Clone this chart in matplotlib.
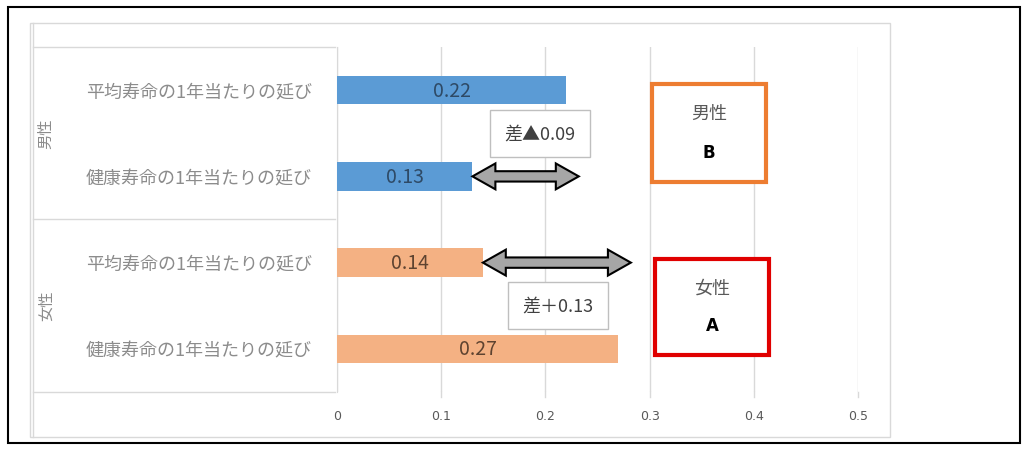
import matplotlib
matplotlib.use('Agg')

import numpy as np
import matplotlib.pyplot as plt
from matplotlib.patches import Polygon, Rectangle
from matplotlib.lines import Line2D

plt.rcParams['font.family'] = ['Noto Sans CJK JP', 'DejaVu Sans']

# data
categories = ['平均寿命の1年当たりの延び', '健康寿命の1年当たりの延び',
              '平均寿命の1年当たりの延び', '健康寿命の1年当たりの延び']
groups = ['男性', '女性']
values = [0.22, 0.13, 0.14, 0.27]
diff_labels = ['差▲0.09', '差＋0.13']
box_labels = [('男性', 'B'), ('女性', 'A')]
xticks = [0, 0.1, 0.2, 0.3, 0.4, 0.5]

blue = '#5B9BD5'
orange = '#F4B183'
bar_colors = [blue, blue, orange, orange]
label_colors = ['#2E4A66', '#2E4A66', '#5E4330', '#5E4330']

fig = plt.figure(figsize=(10.28, 4.52), dpi=100)
W, H = 1028, 452

def fx(px):
    return px / W

def fy(py):
    return 1 - py / H

ax = fig.add_axes([fx(337), fy(393), fx(858) - fx(337), fy(48) - fy(393)])

y = np.arange(len(values))
ax.barh(y, values, height=0.33, color=bar_colors, zorder=3)
ax.set_ylim(3.5, -0.5)
ax.set_xlim(0, 0.5)

# value labels
for yi, v, c in zip(y, values, label_colors):
    ax.text(v / 2, yi, f'{v:.2f}', ha='center', va='center', fontsize=14,
            color=c, zorder=4)

# double arrows between the two bars of each group
for g in range(2):
    a, b = values[2 * g], values[2 * g + 1]
    lo, hi = min(a, b), max(a, b)
    yc = 2 * g + (1 if b < a else 0)
    head = 0.022
    sh, hh = 0.06, 0.15
    x0, x1 = lo, hi + 0.012
    pts = [(x0, yc), (x0 + head, yc - hh), (x0 + head, yc - sh),
           (x1 - head, yc - sh), (x1 - head, yc - hh), (x1, yc),
           (x1 - head, yc + hh), (x1 - head, yc + sh), (x0 + head, yc + sh),
           (x0 + head, yc + hh)]
    ax.add_patch(Polygon(pts, closed=True, facecolor='#A6A6A6',
                         edgecolor='black', linewidth=1.5, zorder=5))

# difference boxes
diff_x = [0.195, 0.212]
diff_y = [0.5, 2.5]
for dx, dy, t in zip(diff_x, diff_y, diff_labels):
    ax.text(dx, dy, t, ha='center', va='center', fontsize=13, color='#404040',
            zorder=6,
            bbox=dict(boxstyle='square,pad=0.8', facecolor='white',
                      edgecolor='#BFBFBF', linewidth=1))

# grid
ax.grid(axis='x', color='#D9D9D9', linewidth=1, zorder=0)
ax.set_axisbelow(True)
for s in ['top', 'right', 'bottom']:
    ax.spines[s].set_visible(False)
ax.spines['left'].set_color('#D9D9D9')

ax.set_xticks(xticks)
ax.set_xticklabels([f'{t:g}' for t in xticks], fontsize=9, color='#595959',
                   family=['Liberation Sans Narrow', 'DejaVu Sans'])
ax.tick_params(axis='x', length=0, pad=12)
ax.set_yticks(y)
ax.set_yticklabels(categories, fontsize=13, color='#8C8C8C')
ax.tick_params(axis='y', length=0, pad=18)

# category table lines
line_c = '#D9D9D9'
for py in [48, 220, 393]:
    fig.add_artist(Line2D([fx(33), fx(335)], [fy(py), fy(py)], color=line_c, lw=1))
fig.add_artist(Line2D([fx(33), fx(33)], [fy(24), fy(438)], color=line_c, lw=1))
for px in [337 + 104.2 * k for k in range(1, 6)]:
    fig.add_artist(Line2D([fx(px), fx(px)], [fy(393), fy(398)], color=line_c, lw=1))

# group labels
for gy, g in zip([134, 306], groups):
    fig.text(fx(46), fy(gy), g, rotation=90, ha='center', va='center',
             fontsize=11, color='#8C8C8C')

# A/B boxes
box_pos = [(652, 85, 114, 98, '#ED7D31'), (655, 260, 114, 96, '#E00000')]
for (bx, by, bw, bh, ec), (t1, t2) in zip(box_pos, box_labels):
    fig.add_artist(Rectangle((fx(bx), fy(by + bh)), fx(bw), bh / H,
                             transform=fig.transFigure, facecolor='white',
                             edgecolor=ec, linewidth=3, zorder=6))
    fig.text(fx(bx + bw / 2), fy(by + bh * 0.3), t1, ha='center', va='center',
             fontsize=13, color='#595959', zorder=7)
    fig.text(fx(bx + bw / 2), fy(by + bh * 0.69), t2, ha='center', va='center',
             fontsize=12, color='black', fontweight='bold', zorder=7,
             family=['DejaVu Sans'])

# chart area border and outer frame
fig.add_artist(Rectangle((fx(30), fy(438)), fx(860), 414 / H,
                         transform=fig.transFigure, facecolor='none',
                         edgecolor='#D9D9D9', linewidth=1))
fig.add_artist(Rectangle((fx(8), fy(444)), fx(1012), 436 / H,
                         transform=fig.transFigure, facecolor='none',
                         edgecolor='black', linewidth=1.5))

fig.savefig('out.png', dpi=100)
